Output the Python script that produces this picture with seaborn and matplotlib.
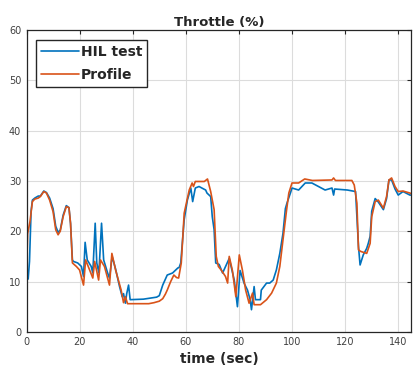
import matplotlib
matplotlib.use("Agg")
import matplotlib.pyplot as plt
import seaborn as sns
import pandas as pd

# Throttle command recorded during the hardware-in-the-loop run
hil_time = [0, 0.5, 1, 1.6, 2.1, 3, 4.3, 5.1, 6.4, 7.4, 8.6, 9.9, 10.9, 11.8, 12.6,
            13.7, 14.9, 15.9, 16.5, 17.2, 17.6, 19.2, 20.6, 21.4, 22, 22.8, 24.3,
            24.9, 25.8, 26.4, 27.2, 28.2, 29, 30.5, 31.2, 32.2, 33.5, 35, 36, 36.5,
            37.2, 37.7, 38.4, 39, 44, 49, 50, 51.3, 53, 55, 57, 57.5, 58.1, 59.4,
            60.6, 61.9, 62.6, 63.6, 65, 67.5, 68, 69.4, 70, 70.7, 71.3, 72.6, 73.9,
            76.4, 78.3, 79.5, 80.5, 82, 83.3, 84.3, 84.8, 85.8, 86.3, 88.2, 88.5,
            90.5, 91.7, 93, 94.2, 95.5, 96.7, 97.6, 98.2, 99.5, 100.1, 102.6, 105.1,
            107.6, 110.1, 112.6, 115.2, 115.8, 116.2, 121, 124.1, 124.6, 125.2,
            125.8, 127, 128.3, 128.9, 129.6, 130.2, 131.5, 132.7, 134.6, 135.8,
            136.7, 137.7, 139, 140.2, 142, 144.6, 145]
hil_throttle = [11, 10.5, 14, 24, 26.2, 26.6, 27, 27, 28, 27.7, 26.6, 24.5, 21, 19.8,
                20.2, 23.2, 25.1, 24.7, 21.5, 14.3, 14, 13.7, 13, 11, 17.8, 14.3, 13,
                11.7, 21.6, 13.7, 11.7, 21.6, 14.3, 11.7, 10.7, 15, 12.5, 9, 7, 7.6,
                5.7, 7.6, 9.3, 6.4, 6.5, 6.9, 7.2, 9.3, 11.3, 11.7, 12.7, 12.8, 13.7,
                22.3, 26.2, 28.6, 25.9, 28.6, 28.9, 28.2, 27.6, 26.9, 22.9, 20.3, 13.7,
                13.4, 11.7, 14.6, 10.3, 5, 12.2, 9.7, 8.3, 6.4, 4.4, 9, 6.4, 6.4, 8.3,
                9.7, 9.7, 10.3, 12.3, 15.6, 19.6, 24.5, 25.6, 27.6, 28.6, 28.2, 29.6,
                29.6, 28.9, 28.2, 28.6, 27.2, 28.4, 28.2, 27.9, 22.9, 17, 13.3, 15.3,
                16.6, 17.6, 19, 24, 26.5, 25.8, 24.3, 26.5, 30.2, 30.2, 28.4, 27.2,
                27.9, 27.2, 27.2]

# Reference throttle profile of the drive cycle
profile_time = [0, 0.3, 1.2, 2.1, 3, 4.3, 5.1, 6.4, 7.4, 8.6, 9.9, 10.9, 11.8, 12.6,
                13.7, 14.9, 15.9, 16.5, 17.2, 18.7, 19.9, 21.4, 22.2, 24.9, 25.6,
                27.1, 27.8, 29.3, 31.2, 32.1, 33.5, 35.6, 36.5, 37.2, 38, 46, 48, 50,
                51.3, 52.3, 53, 54.3, 55.5, 56.5, 57.3, 58.3, 59.4, 61.3, 62.4, 62.9,
                63.6, 67, 68.2, 69.4, 70.7, 71.5, 72.3, 73.5, 75, 75.8, 76.4, 77.6,
                78.9, 80.2, 81.4, 82.6, 83.9, 85.2, 85.8, 88.2, 90.5, 92.4, 94.2, 95.5,
                96.7, 98, 98.9, 100.1, 102.6, 104.9, 107.8, 115.2, 115.8, 116.5, 122.7,
                123.6, 124.6, 125.2, 126, 128.3, 129.6, 130.2, 131.5, 132.7, 134.6,
                135.8, 136.7, 137.7, 139, 140.2, 142, 144.6, 145]
profile_throttle = [14, 19.5, 22, 25.9, 26.4, 26.6, 26.9, 27.9, 27.6, 26.2, 23.9, 20.3,
                    19.3, 20, 22.9, 24.9, 24.7, 21.6, 13.7, 13, 12.3, 9.3, 14.3, 10.7,
                    14, 10.3, 14.3, 13, 9.3, 15.6, 12.3, 8.3, 5.8, 7, 5.6, 5.6, 5.8,
                    6.1, 6.6, 7.5, 8.3, 10, 11.3, 10.8, 10.7, 13.7, 23.6, 28.2, 29.6,
                    28.9, 29.9, 29.9, 30.4, 27.9, 24.3, 15, 13, 12.2, 11, 9.7, 15, 12.2,
                    7, 15.3, 12.2, 8.3, 5.7, 7.7, 5.4, 5.4, 6.4, 7.7, 9.7, 13, 18.3, 24,
                    27.6, 29.6, 29.6, 30.4, 30.1, 30.2, 30.6, 30.1, 30.1, 29.2, 25.6,
                    16.3, 16, 15.6, 17.6, 22.9, 25.9, 26.2, 24.6, 26.9, 30.2, 30.6,
                    28.9, 27.9, 28, 27.6, 27.5]

x_ticks = [0, 20, 40, 60, 80, 100, 120, 140]
y_ticks = [0, 10, 20, 30, 40, 50, 60]

sns.set_style("white")
plt.rcParams["font.family"] = ["DejaVu Sans"]

hil_df = pd.DataFrame({"time": hil_time, "throttle": hil_throttle})
profile_df = pd.DataFrame({"time": profile_time, "throttle": profile_throttle})

fig = plt.figure(figsize=(4.13, 3.81), dpi=100)
ax = fig.add_axes([0.065, 0.129, 0.93, 0.792])

sns.lineplot(data=hil_df, x="time", y="throttle", ax=ax, color="#0072BD",
             linewidth=1.2, label="HIL test", estimator=None, sort=False)
sns.lineplot(data=profile_df, x="time", y="throttle", ax=ax, color="#D95319",
             linewidth=1.2, label="Profile", estimator=None, sort=False)

ax.set_xlim(0, 145)
ax.set_ylim(0, 60)
ax.set_xticks(x_ticks)
ax.set_yticks(y_ticks)
ax.grid(True, color="#dcdcdc", linewidth=0.8)
ax.set_axisbelow(True)

for side in ax.spines.values():
    side.set_color("#262626")
    side.set_linewidth(0.9)
ax.tick_params(direction="in", length=3, width=0.8, top=True, right=True,
               labelsize=7, colors="#262626", labelcolor="#404040", pad=4)

ax.set_title("Throttle (%)", fontsize=9.5, fontweight="bold", pad=3)
ax.set_xlabel("time (sec)", fontsize=10, fontweight="bold", labelpad=3)
ax.set_ylabel("")

leg = ax.legend(loc="upper left", bbox_to_anchor=(0.025, 0.968), borderaxespad=0,
                frameon=True, fancybox=False, framealpha=1, handlelength=2.7,
                handletextpad=0.15, borderpad=0.35, labelspacing=0.7,
                prop={"weight": "bold", "size": 10})
leg.get_frame().set_edgecolor("#262626")
leg.get_frame().set_linewidth(1.0)

fig.savefig("out.png", dpi=100)
